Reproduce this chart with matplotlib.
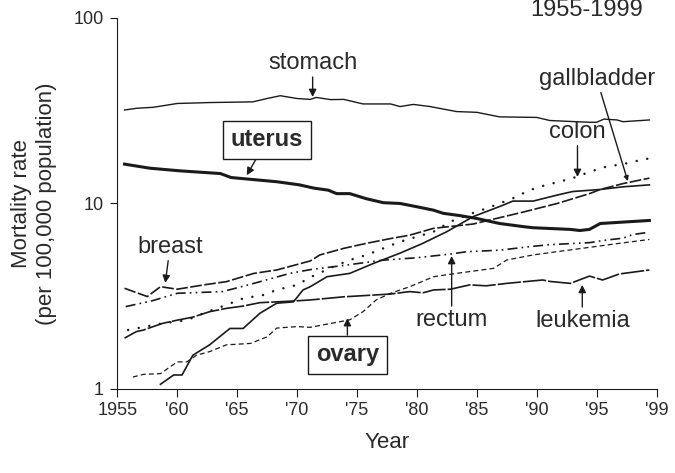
import matplotlib
matplotlib.use('Agg')
import matplotlib.pyplot as plt
from matplotlib.ticker import NullLocator, FixedLocator, FixedFormatter

plt.rcParams['font.family'] = ['Liberation Sans', 'DejaVu Sans']

# data (year, rate per 100,000)
stomach_yr = [1955.6, 1956.6, 1958.0, 1960.0, 1962.7, 1966.3, 1967.5, 1968.6, 1970.0, 1971.1,
              1971.6, 1972.8, 1973.9, 1975.5, 1977.8, 1978.6, 1979.7, 1981.1, 1983.3, 1985.0,
              1986.9, 1990.0, 1991.1, 1994.4, 1995.0, 1995.6, 1996.7, 1997.2, 1999.4]
stomach = [31.9, 32.6, 33.0, 34.6, 35.0, 35.3, 36.8, 38.1, 36.8, 36.4,
           37.3, 36.3, 36.4, 34.4, 34.4, 33.3, 34.2, 33.3, 31.3, 31.0,
           29.3, 29.1, 28.0, 27.4, 27.4, 28.5, 28.2, 27.6, 28.2]

uterus_yr = [1955.6, 1957.7, 1960.2, 1963.6, 1964.5, 1968.3, 1970.2, 1971.4, 1972.6, 1973.3,
             1974.4, 1975.8, 1977.2, 1978.6, 1980.0, 1981.4, 1982.2, 1983.6, 1985.0, 1986.9,
             1988.9, 1989.7, 1992.8, 1993.6, 1994.4, 1995.3, 1999.4]
uterus = [16.3, 15.5, 15.0, 14.5, 13.8, 13.1, 12.6, 12.1, 11.8, 11.3,
          11.3, 10.6, 10.1, 10.0, 9.6, 9.2, 8.85, 8.6, 8.3, 7.8,
          7.5, 7.4, 7.25, 7.15, 7.25, 7.8, 8.1]

breast_yr = [1955.6, 1957.5, 1958.6, 1960.0, 1962.2, 1964.1, 1966.4, 1968.3, 1971.1, 1971.9,
             1973.9, 1975.8, 1977.8, 1979.4, 1981.4, 1984.7, 1986.1, 1988.9, 1991.7, 1994.4,
             1995.3, 1997.2, 1999.4]
breast = [3.49, 3.15, 3.56, 3.45, 3.64, 3.79, 4.2, 4.38, 4.9, 5.28,
          5.73, 6.1, 6.47, 6.75, 7.35, 7.75, 8.15, 9.0, 10.0, 11.3,
          11.9, 12.8, 13.7]

gall_yr = [1958.6, 1959.7, 1960.4, 1961.3, 1962.7, 1964.4, 1965.5, 1966.9, 1968.3, 1969.7,
           1970.5, 1971.1, 1972.5, 1974.4, 1976.4, 1978.6, 1980.5, 1982.5, 1984.7, 1986.1,
           1987.2, 1988.0, 1989.7, 1991.7, 1993.0, 1995.3, 1997.2, 1999.4]
gallbladder = [1.06, 1.19, 1.19, 1.52, 1.73, 2.12, 2.12, 2.56, 2.9, 2.95,
               3.42, 3.56, 4.03, 4.2, 4.76, 5.4, 6.1, 7.05, 8.5, 9.2,
               9.8, 10.3, 10.3, 11.1, 11.6, 11.9, 12.3, 12.6]

colon_yr = [1955.9, 1958.8, 1960.8, 1962.2, 1964.1, 1965.5, 1967.2, 1968.3, 1970.0, 1971.1,
            1973.0, 1974.4, 1975.8, 1977.2, 1978.6, 1980.0, 1981.4, 1982.8, 1984.2, 1985.8,
            1988.0, 1989.4, 1990.8, 1991.9, 1993.3, 1994.4, 1995.8, 1997.2, 1998.6, 1999.4]
colon = [2.08, 2.26, 2.35, 2.56, 2.84, 3.08, 3.21, 3.42, 3.64, 4.0,
         4.56, 4.96, 5.28, 5.73, 6.22, 6.62, 7.05, 7.98, 8.67, 9.4,
         10.65, 11.8, 12.6, 13.1, 13.9, 14.8, 15.8, 16.3, 17.1, 17.5]

rectum_yr = [1955.7, 1958.0, 1960.0, 1963.8, 1966.4, 1969.4, 1971.1, 1973.5, 1977.2, 1980.0,
             1982.8, 1984.2, 1986.9, 1989.4, 1991.1, 1994.4, 1995.8, 1997.2, 1998.0, 1999.4]
rectum = [2.78, 3.0, 3.28, 3.35, 3.71, 4.2, 4.4, 4.6, 4.95, 5.1,
          5.34, 5.5, 5.6, 5.85, 6.0, 6.15, 6.35, 6.5, 6.8, 7.0]

leuk_yr = [1955.6, 1956.6, 1957.2, 1958.0, 1958.8, 1960.0, 1961.3, 1962.7, 1964.1, 1965.5,
           1966.9, 1968.3, 1969.7, 1971.1, 1973.9, 1977.8, 1979.4, 1980.5, 1981.4, 1982.8,
           1984.4, 1985.8, 1987.5, 1990.5, 1991.1, 1992.8, 1994.4, 1995.5, 1996.9, 1999.4]
leukemia = [1.88, 2.04, 2.08, 2.17, 2.26, 2.35, 2.44, 2.61, 2.72, 2.8,
            2.92, 2.95, 2.98, 3.02, 3.14, 3.25, 3.35, 3.3, 3.42, 3.45,
            3.64, 3.6, 3.71, 3.87, 3.8, 3.71, 4.06, 3.87, 4.17, 4.38]

ovary_yr = [1956.3, 1957.2, 1958.6, 1960.0, 1960.8, 1961.6, 1962.7, 1964.1, 1966.1, 1967.5,
            1968.3, 1970.0, 1971.1, 1974.4, 1975.5, 1976.6, 1977.8, 1979.4, 1981.4, 1983.3,
            1986.4, 1987.5, 1989.7, 1991.7, 1994.4, 1996.9, 1999.4]
ovary = [1.16, 1.2, 1.21, 1.40, 1.40, 1.52, 1.59, 1.73, 1.76, 1.91,
         2.13, 2.17, 2.15, 2.36, 2.61, 3.02, 3.28, 3.56, 4.03, 4.2,
         4.47, 4.96, 5.28, 5.5, 5.8, 6.1, 6.4]

xticks = [1955, 1960, 1965, 1970, 1975, 1980, 1985, 1990, 1995, 2000]
xlabels = ['1955', "'60", "'65", "'70", "'75", "'80", "'85", "'90", "'95", "'99"]

fig = plt.figure(figsize=(6.75, 4.73), dpi=100)
ax = fig.add_axes([0.1738, 0.1776, 0.7989, 0.7844])
c = '#1a1a1a'
tc = '#2a2a2a'

ax.plot(stomach_yr, stomach, color=c, lw=1.0)
ax.plot(uterus_yr, uterus, color=c, lw=2.2)
ax.plot(breast_yr, breast, color=c, lw=1.2, ls=(0, (7, 1.5)))
ax.plot(gall_yr, gallbladder, color=c, lw=1.2)
ax.plot(colon_yr, colon, color=c, lw=1.8, ls=(0, (0.01, 4.3)), dash_capstyle='round')
ax.plot(rectum_yr, rectum, color=c, lw=1.2, ls=(0, (6, 2.5, 1, 2.5, 1, 2.5)))
ax.plot(leuk_yr, leukemia, color=c, lw=1.2, ls=(0, (14, 1.2)))
ax.plot(ovary_yr, ovary, color=c, lw=0.9, ls=(0, (4, 2.5)))

ax.set_yscale('log')
ax.set_ylim(1, 100)
ax.set_xlim(1955, 2000)
ax.yaxis.set_major_locator(FixedLocator([1, 10, 100]))
ax.yaxis.set_major_formatter(FixedFormatter(['1', '10', '100']))
ax.yaxis.set_minor_locator(NullLocator())
ax.set_xticks(xticks)
ax.set_xticklabels(xlabels)
ax.tick_params(axis='both', labelsize=13, direction='out', color=c, labelcolor=tc)
ax.tick_params(axis='y', length=5, pad=5)
ax.tick_params(axis='x', length=6)
ax.spines['top'].set_visible(False)
ax.spines['right'].set_visible(False)
for s in ['left', 'bottom']:
    ax.spines[s].set_color(c)

ax.set_xlabel('Year', fontsize=16, color=tc, labelpad=9)
ax.set_ylabel('Mortality rate\n(per 100,000 population)', fontsize=16, color=tc, labelpad=12)

arr = dict(arrowstyle='-|>', color=c, lw=1, mutation_scale=11, shrinkA=0, shrinkB=0)
fs = 17

ax.annotate('stomach', xy=(1971.3, 37.5), xytext=(1971.3, 57), fontsize=fs, ha='center', va='center',
            color=tc, arrowprops=arr)
ax.annotate('uterus', xy=(1965.8, 14.2), xytext=(1967.5, 22), fontsize=fs, fontweight='bold',
            ha='center', va='center', color=tc,
            bbox=dict(boxstyle='square,pad=0.32', fc='white', ec=c, lw=1), arrowprops=arr)
ax.annotate('breast', xy=(1959.0, 3.73), xytext=(1959.4, 5.83), fontsize=fs, ha='center', va='center',
            color=tc, arrowprops=arr)
ax.annotate('gallbladder', xy=(1997.6, 13.2), xytext=(1995.0, 47), fontsize=fs, ha='center', va='center',
            color=tc, arrowprops=dict(arr, mutation_scale=7))
ax.annotate('colon', xy=(1993.4, 13.9), xytext=(1993.4, 24.3), fontsize=fs, ha='center', va='center',
            color=tc, arrowprops=arr)
ax.annotate('rectum', xy=(1982.9, 5.21), xytext=(1982.9, 2.36), fontsize=fs, ha='center', va='center',
            color=tc, arrowprops=arr)
ax.annotate('leukemia', xy=(1993.8, 3.64), xytext=(1993.8, 2.33), fontsize=fs, ha='center', va='center',
            color=tc, arrowprops=arr)
ax.annotate('ovary', xy=(1974.2, 2.41), xytext=(1974.2, 1.53), fontsize=fs, fontweight='bold',
            ha='center', va='center', color=tc,
            bbox=dict(boxstyle='square,pad=0.32', fc='white', ec=c, lw=1), arrowprops=arr)
ax.text(0.871, 1.022, '1955-1999', transform=ax.transAxes, fontsize=fs, ha='center', va='center',
        color=tc)

fig.savefig('out.png', dpi=100)
